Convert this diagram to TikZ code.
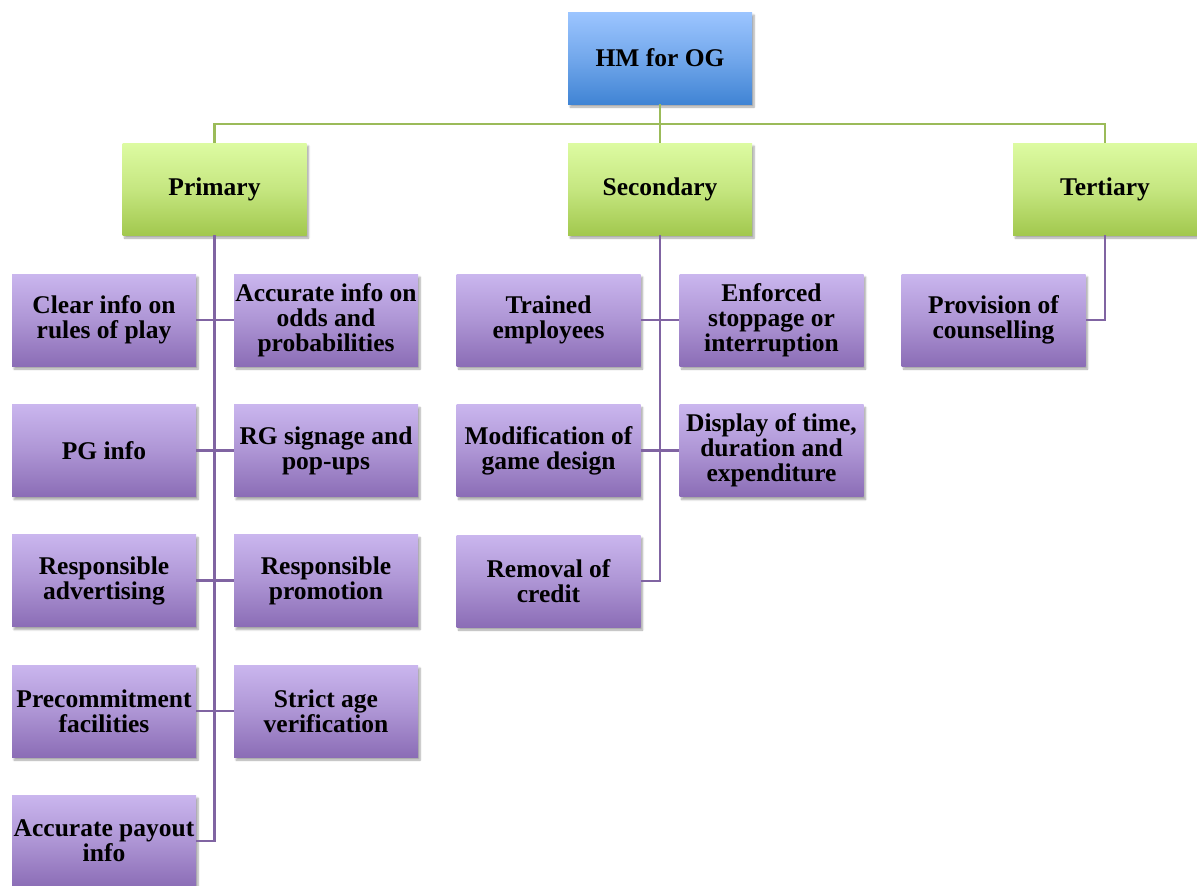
\documentclass[tikz,border=0pt]{standalone}
\usepackage{fontspec}
\setmainfont{Liberation Serif}
\usetikzlibrary{shadows.blur}
\definecolor{ptop}{HTML}{CAB6EE}
\definecolor{pbot}{HTML}{8B6DB6}
\definecolor{gtop}{HTML}{DDFBA2}
\definecolor{gbot}{HTML}{A2C84E}
\definecolor{btop}{HTML}{9CC5FF}
\definecolor{bbot}{HTML}{4084D4}
\definecolor{gline}{HTML}{9BBB59}
\definecolor{pline}{HTML}{8064A2}
\tikzset{
  boxbase/.style={rectangle, minimum width=184pt, minimum height=92pt, inner sep=0pt,
    align=center, font=\fontsize{25.5}{25}\selectfont\bfseries,
    blur shadow={shadow xshift=2pt, shadow yshift=-3pt, shadow blur steps=6, shadow opacity=35}},
  purplebox/.style={boxbase, top color=ptop, bottom color=pbot, middle color=ptop!55!pbot},
  greenbox/.style={boxbase, top color=gtop, bottom color=gbot, middle color=gtop!60!gbot},
  bluebox/.style={boxbase, top color=btop, bottom color=bbot, middle color=btop!55!bbot},
  gconn/.style={draw=gline, line width=2.2pt},
  pconn/.style={draw=pline, line width=2.2pt}
}
\begin{document}
\begin{tikzpicture}[x=1pt, y=-1pt]
\useasboundingbox (0,0) rectangle (1197,886);
% top levels
\node[bluebox] (hm) at (660,58) {HM for OG};
\node[greenbox] (prim) at (214.5,189) {Primary};
\node[greenbox] (sec) at (660,189) {Secondary};
\node[greenbox] (tert) at (1105,189) {Tertiary};
\coordinate (bus) at (660,124);
% primary children
\node[purplebox] (a1) at (104,320) {Clear info on\\rules of play};
\node[purplebox] (b1) at (326,320) {Accurate info on\\odds and\\probabilities};
\node[purplebox] (a2) at (104,450.5) {PG info};
\node[purplebox] (b2) at (326,450.5) {RG signage and\\pop-ups};
\node[purplebox] (a3) at (104,580.5) {Responsible\\advertising};
\node[purplebox] (b3) at (326,580.5) {Responsible\\promotion};
\node[purplebox] (a4) at (104,711) {Precommitment\\facilities};
\node[purplebox] (b4) at (326,711) {Strict age\\verification};
\node[purplebox] (a5) at (104,841) {Accurate payout\\info};
% secondary children
\node[purplebox] (s1) at (548.5,320) {Trained\\employees};
\node[purplebox] (s2) at (771.5,320) {Enforced\\stoppage or\\interruption};
\node[purplebox] (s3) at (548.5,450.5) {Modification of\\game design};
\node[purplebox] (s4) at (771.5,450.5) {Display of time,\\duration and\\expenditure};
\node[purplebox] (s5) at (548.5,581) {Removal of\\credit};
% tertiary child
\node[purplebox] (t1) at (993.5,320) {Provision of\\counselling};
% connectors
\draw[gconn] (hm.south) -- (bus);
\draw[gconn] (prim.north) |- (bus) -| (tert.north);
\draw[gconn] (bus) -- (sec.north);
\draw[pconn] (prim.south) |- (a5.east);
\draw[pconn] (a1.east) -- (b1.west);
\draw[pconn] (a2.east) -- (b2.west);
\draw[pconn] (a3.east) -- (b3.west);
\draw[pconn] (a4.east) -- (b4.west);
\draw[pconn] (sec.south) |- (s5.east);
\draw[pconn] (s1.east) -- (s2.west);
\draw[pconn] (s3.east) -- (s4.west);
\draw[pconn] (tert.south) |- (t1.east);
\end{tikzpicture}
\end{document}
